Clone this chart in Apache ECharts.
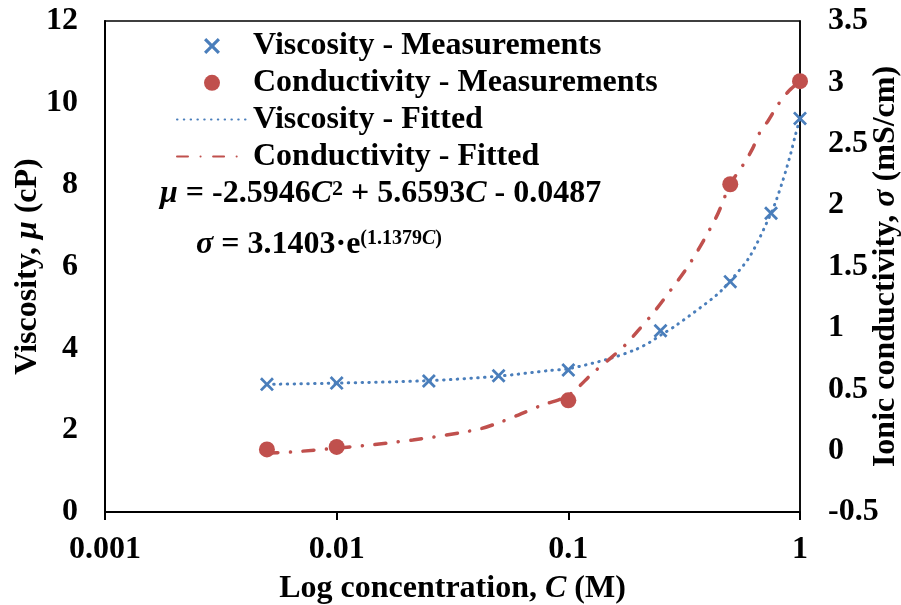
<!DOCTYPE html>
<html><head><meta charset="utf-8">
<script src="https://cdn.jsdelivr.net/npm/echarts@6/dist/echarts.min.js"></script>
<style>html,body{margin:0;padding:0;background:#fff}#c{width:901px;height:605px}</style>
</head><body><div id="c"></div>
<script>
// ---- data ----
const concentration = [0.005, 0.01, 0.025, 0.05, 0.1, 0.25, 0.5, 0.75, 1];
const viscosityMeasured = [3.12, 3.15, 3.2, 3.33, 3.47, 4.43, 5.63, 7.30, 9.62];
const condConcentration = [0.005, 0.01, 0.1, 0.5, 1];
const conductivityMeasured = [0.01, 0.03, 0.41, 2.17, 3.01];
const viscFitC = [0.005, 0.01, 0.025, 0.05, 0.0834, 0.1, 0.151, 0.197, 0.225, 0.25, 0.29, 0.436, 0.5, 0.608, 0.75, 0.793, 0.841, 0.877, 0.914, 0.954, 1];
const viscFitV = [3.12, 3.15, 3.21, 3.32, 3.46, 3.5, 3.75, 3.98, 4.15, 4.32, 4.55, 5.3, 5.65, 6.25, 7.3, 7.65, 8.08, 8.42, 8.78, 9.2, 9.62];
const condFitC = [0.005, 0.0065, 0.01, 0.0164, 0.0213, 0.0261, 0.034, 0.0422, 0.0515, 0.0608, 0.0753, 0.1, 0.128, 0.15, 0.176, 0.2, 0.232, 0.257, 0.335, 0.436, 0.5, 0.569, 0.624, 0.67, 0.73, 0.805, 0.889, 1];
const condFitV = [-0.02, -0.01, 0.02, 0.06, 0.087, 0.11, 0.145, 0.18, 0.236, 0.29, 0.364, 0.45, 0.635, 0.744, 0.86, 0.977, 1.119, 1.227, 1.526, 1.906, 2.17, 2.33, 2.46, 2.59, 2.69, 2.82, 2.924, 3.01];
const xTickValues = [0.001, 0.01, 0.1, 1];
const xTickLabels = ['0.001', '0.01', '0.1', '1'];
const leftTickValues = [0, 2, 4, 6, 8, 10, 12];
const leftTickLabels = ['0', '2', '4', '6', '8', '10', '12'];
const rightTickValues = [-0.5, 0, 0.5, 1, 1.5, 2, 2.5, 3, 3.5];
const rightTickLabels = ['-0.5', '0', '0.5', '1', '1.5', '2', '2.5', '3', '3.5'];
const seriesNames = ['Viscosity - Measurements', 'Conductivity - Measurements', 'Viscosity - Fitted', 'Conductivity - Fitted'];

// ---- styling ----
const FONT = "'Liberation Serif','Times New Roman',serif";
const BLUE = '#4A7EBB';
const RED = '#C0504D';
const XMARK = 'path://M0,1.4 L1.4,0 L5,3.6 L8.6,0 L10,1.4 L6.4,5 L10,8.6 L8.6,10 L5,6.4 L1.4,10 L0,8.6 L3.6,5 Z';

function lookup(vals, labels, v) {
  for (let i = 0; i < vals.length; i++) if (Math.abs(vals[i] - v) < 1e-9 * Math.max(1, Math.abs(v)) + 1e-12) return labels[i];
  return '';
}
const zip = (a, b) => a.map((x, i) => [x, b[i]]);
const txt = { fontFamily: FONT, fontWeight: 'bold', fontSize: 32, color: '#000' };
const ital = Object.assign({}, txt, { fontStyle: 'italic' });

const chart = echarts.init(document.getElementById('c'), null, { renderer: 'canvas' });
chart.setOption({
  animation: false,
  backgroundColor: '#fff',
  grid: { left: 105, right: 101, top: 21, bottom: 93, outerBoundsMode: 'none', containLabel: false,
          show: true, borderColor: '#000', borderWidth: 1.5, backgroundColor: 'transparent' },
  legend: {
    orient: 'vertical', left: 176, top: 30, padding: 0, itemWidth: 70, itemHeight: 16, itemGap: 4.8,
    textStyle: Object.assign({ lineHeight: 32, padding: [0, 0, 0, 1] }, txt),
    data: [
      { name: seriesNames[0] },
      { name: seriesNames[1] },
      { name: seriesNames[2], itemStyle: { opacity: 0 } },
      { name: seriesNames[3], itemStyle: { opacity: 0 } }
    ]
  },
  xAxis: {
    type: 'log', logBase: 10, min: 0.001, max: 1,
    name: '{b|Log concentration, }{i|C}{b| (M)}', nameLocation: 'middle', nameGap: 61, nameMoveOverlap: false,
    nameTextStyle: { rich: { b: txt, i: ital } },
    axisLine: { lineStyle: { color: '#000', width: 2 } },
    axisTick: { show: true, inside: false, length: 8, lineStyle: { color: '#000', width: 2 } },
    minorTick: { show: false },
    splitLine: { show: false },
    axisLabel: Object.assign({ margin: 22, formatter: v => lookup(xTickValues, xTickLabels, v) }, txt)
  },
  yAxis: [
    {
      type: 'value', min: 0, max: 12, interval: 2, position: 'left',
      name: '{b|Viscosity, }{i|μ}{b| (cP)}', nameLocation: 'middle', nameGap: 61, nameRotate: 90, nameMoveOverlap: false,
      nameTextStyle: { rich: { b: txt, i: ital } },
      axisLine: { show: true, lineStyle: { color: '#000', width: 2 } },
      axisTick: { show: false }, splitLine: { show: false },
      axisLabel: Object.assign({ margin: 27, formatter: v => lookup(leftTickValues, leftTickLabels, v) }, txt)
    },
    {
      type: 'value', min: -0.5, max: 3.5, interval: 0.5, position: 'right',
      name: '{b|Ionic conductivity, }{i|σ}{b| (mS/cm)}', nameLocation: 'middle', nameGap: 70, nameRotate: 90, nameMoveOverlap: false,
      nameTextStyle: { rich: { b: txt, i: ital } },
      axisLine: { show: true, lineStyle: { color: '#000', width: 1.5 } },
      axisTick: { show: false }, splitLine: { show: false },
      axisLabel: Object.assign({ margin: 28, formatter: v => lookup(rightTickValues, rightTickLabels, v) }, txt)
    }
  ],
  series: [
    { name: seriesNames[0], type: 'scatter', yAxisIndex: 0, symbol: XMARK, symbolSize: 14, itemStyle: { color: BLUE, opacity: 1 }, data: zip(concentration, viscosityMeasured), z: 3 },
    { name: seriesNames[1], type: 'scatter', yAxisIndex: 1, symbol: 'circle', symbolSize: 16, itemStyle: { color: RED, opacity: 1 }, data: zip(condConcentration, conductivityMeasured), z: 3 },
    { name: seriesNames[2], type: 'line', yAxisIndex: 0, smooth: 0.3, symbol: 'none', itemStyle: { color: BLUE },
      lineStyle: { color: BLUE, width: 3, type: [0.5, 6.3], cap: 'round' }, data: zip(viscFitC, viscFitV), z: 4 },
    { name: seriesNames[3], type: 'line', yAxisIndex: 1, smooth: 0.3, symbol: 'none', itemStyle: { color: RED },
      lineStyle: { color: RED, width: 3.5, type: [11, 12.5, 0.1, 12.5], cap: 'round' }, data: zip(condFitC, condFitV), z: 4 }
  ],
  graphic: [
    { type: 'text', x: 160, y: 194, z: 10, style: {
        text: '{i|μ}{b| = -2.5946}{i|C}{sp|2}{b| + 5.6593}{i|C}{b| - 0.0487}',
        verticalAlign: 'middle', align: 'left',
        rich: { b: txt, i: ital,
                sp: Object.assign({}, txt, { fontSize: 22, verticalAlign: 'top', lineHeight: 22 }) } } },
    { type: 'text', x: 196, y: 245, z: 10, style: {
        text: '{i|σ}{b| = 3.1403·e}{s|(1.1379}{si|C}{s|)}',
        verticalAlign: 'middle', align: 'left',
        rich: { b: Object.assign({ verticalAlign: 'bottom', lineHeight: 32 }, txt),
                i: Object.assign({ verticalAlign: 'bottom', lineHeight: 32 }, ital),
                s: Object.assign({}, txt, { fontSize: 20, lineHeight: 20, verticalAlign: 'top' }),
                si: Object.assign({}, ital, { fontSize: 20, lineHeight: 20, verticalAlign: 'top' }) } } }
  ]
});
</script></body></html>
